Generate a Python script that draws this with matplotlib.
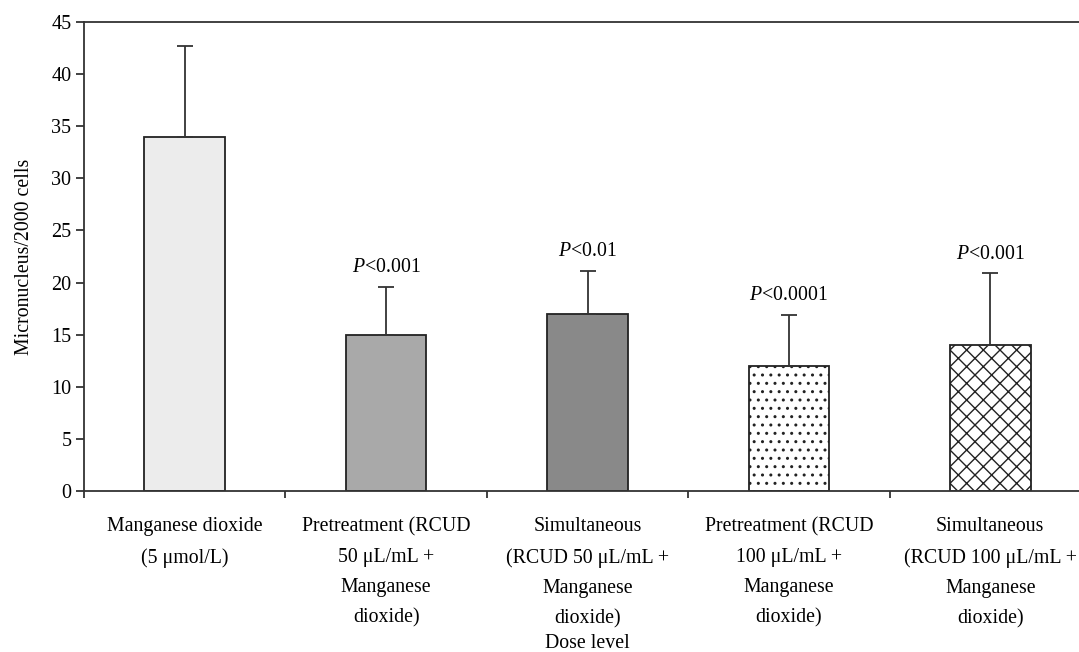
import numpy as np
import matplotlib
matplotlib.use('Agg')
import matplotlib.pyplot as plt

plt.rcParams['font.family'] = ['Liberation Serif', 'DejaVu Serif']
plt.rcParams['mathtext.fontset'] = 'custom'
plt.rcParams['mathtext.it'] = 'Liberation Serif:italic'
plt.rcParams['mathtext.rm'] = 'Liberation Serif'
plt.rcParams['hatch.linewidth'] = 1.0

groups = ['Manganese dioxide\n(5 \u03bcmol/L)',
          'Pretreatment (RCUD\n50 \u03bcL/mL +\nManganese\ndioxide)',
          'Simultaneous\n(RCUD 50 \u03bcL/mL +\nManganese\ndioxide)',
          'Pretreatment (RCUD\n100 \u03bcL/mL +\nManganese\ndioxide)',
          'Simultaneous\n(RCUD 100 \u03bcL/mL +\nManganese\ndioxide)']
means = [34.0, 15.0, 17.0, 12.0, 14.0]
sds = [8.7, 4.6, 4.1, 4.9, 6.9]
pvals = ['', '<0.001', '<0.01', '<0.0001', '<0.001']

colors = ['#ececec', '#a9a9a9', '#898989', 'white', 'white']
hatches = [None, None, None, '..', 'xx']

fig = plt.figure(figsize=(10.79, 6.52), dpi=100)
ax = fig.add_axes([84/1079, 1 - 491/652, (1091-84)/1079, (491-22)/652])

x = np.arange(len(means))
bars = ax.bar(x, means, width=0.4, color=colors, edgecolor='#222222', linewidth=1.3)
for b, h in zip(bars, hatches):
    if h:
        b.set_hatch(h)
ax.errorbar(x, means, yerr=[np.zeros(len(sds)), sds], fmt='none',
            ecolor='#333333', elinewidth=1.3, capsize=5.5, capthick=1.3)

for xi, m, s, p in zip(x, means, sds, pvals):
    if p:
        ax.text(xi, m + s + 1.4, r'$P$' + p, ha='center', va='baseline', fontsize=14.3)

ax.set_xlim(-0.5, 4.5)
ax.set_ylim(0, 45)
ax.set_yticks(np.arange(0, 46, 5))
ax.set_xticks(np.arange(-0.5, 4.6, 1.0))
ax.set_xticklabels([])
ax.set_xticks(x, minor=True)
ax.set_xticklabels(groups, minor=True, fontsize=14.3, linespacing=1.8)
ax.tick_params(axis='x', which='minor', length=0, pad=19)
ax.tick_params(axis='x', which='major', length=5, width=1.3, color='#333333')
ax.tick_params(axis='y', length=6, width=1.3, color='#333333', labelsize=14.5, pad=3)

for side in ['left', 'bottom', 'top']:
    ax.spines[side].set_linewidth(1.3)
    ax.spines[side].set_color('#333333')
ax.spines['right'].set_visible(False)

ax.set_ylabel('Micronucleus/2000 cells', fontsize=14.3)
ax.yaxis.set_label_coords(-0.05, 0.5)
ax.set_xlabel('Dose level', fontsize=14.3, va='center')
ax.xaxis.set_label_coords(0.5, (491 - 644) / 469)

fig.savefig('out.png', dpi=100)
